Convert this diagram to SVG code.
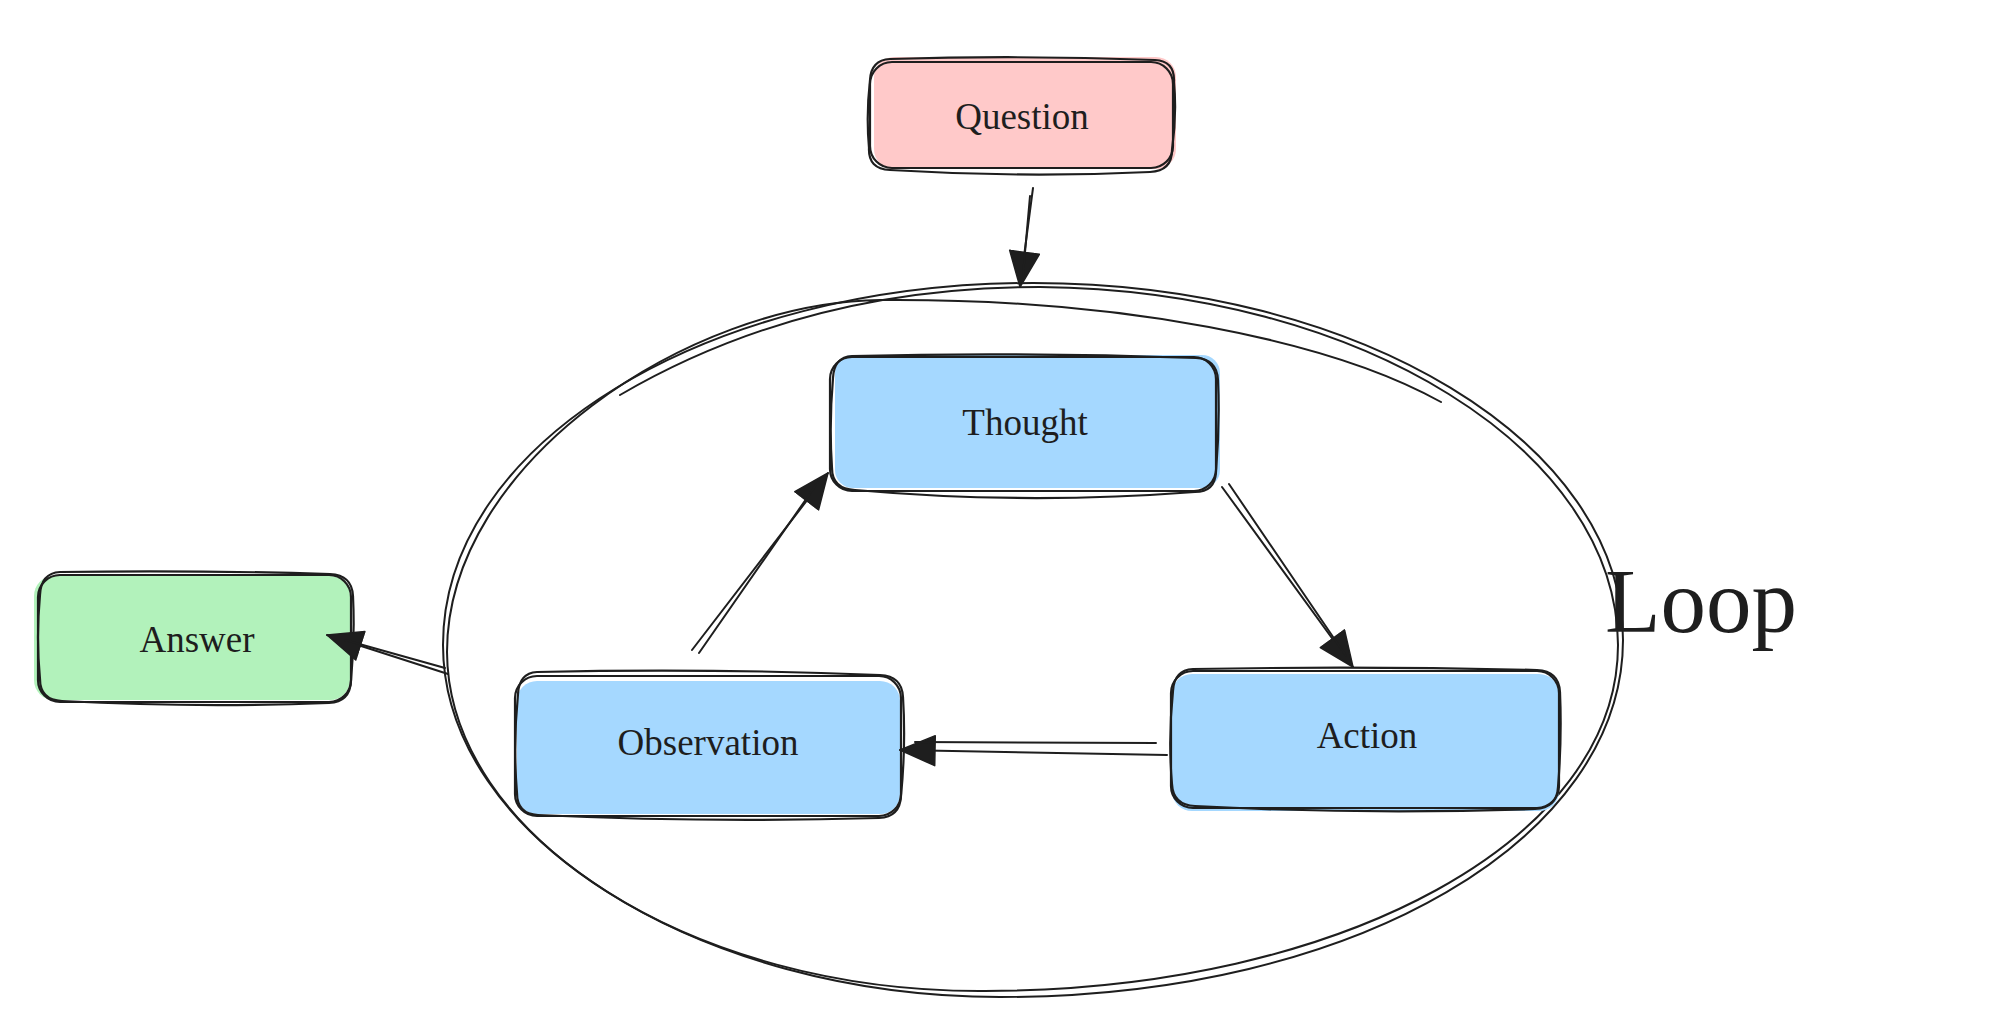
<svg xmlns="http://www.w3.org/2000/svg" width="2000" height="1032" viewBox="0 0 2000 1032">
<defs>
<style>
.ln{fill:none;stroke:#1e1e1e;stroke-width:2.2;stroke-linecap:round;stroke-linejoin:round}
.ln2{fill:none;stroke:#1e1e1e;stroke-width:2;stroke-linecap:round;stroke-linejoin:round}
.lbl{font-family:"Liberation Serif","Times New Roman",serif;font-size:37px;fill:#1e1e1e;text-anchor:middle}
.pink{fill:#ffc9c9}
.blue{fill:#a5d8ff}
.green{fill:#b2f2bb}
</style>
<marker id="ah" markerUnits="userSpaceOnUse" markerWidth="40" markerHeight="36" refX="36" refY="16" orient="auto">
<path d="M1,1 L36,16 L1,31 Z" fill="#1e1e1e" stroke="#1e1e1e" stroke-width="1.5" stroke-linejoin="round"/>
</marker>
</defs>
<rect width="2000" height="1032" fill="#ffffff"/>

<g id="loop">
<path class="ln2" d="M 1033,283 C 1359,283 1623,443 1623,640 C 1623,837 1359,997 1000,997 C 700,997 443,837 443,645 C 443,443 707,283 1033,283"/>
<path class="ln2" d="M 620,395 C 740,325 880,287 1040,287 C 1360,290 1617,450 1618,645 C 1618,838 1345,990 985,991 C 690,993 448,835 447,652 C 447,462 690,302 880,300 C 1120,298 1330,340 1441,402"/>
<text x="1605" y="632" style="font-family:'Liberation Serif','Times New Roman',serif;font-size:91px;fill:#1e1e1e">Loop</text>
</g>

<g id="question">
<rect class="pink" x="874" y="57" width="302" height="112" rx="20"/>
<rect class="ln" x="870" y="62" width="303" height="106" rx="22"/>
<path class="ln" d="M 890,59 Q 1021,55 1155,60 Q 1175,61 1174,82 Q 1177,115 1172,150 Q 1172,171 1150,172 Q 1021,178 890,170 Q 868,169 869,148 Q 866,115 870,80 Q 871,60 890,59 Z"/>
<text class="lbl" x="1022" y="129">Question</text>
</g>

<g id="thought">
<rect class="blue" x="835" y="355" width="385" height="133" rx="18"/>
<rect class="ln" x="830" y="357" width="386" height="134" rx="22"/>
<path class="ln" d="M 852,356 Q 1024,352 1196,358 Q 1217,359 1218,380 Q 1220,424 1216,472 Q 1215,492 1195,492 Q 1024,505 855,490 Q 832,489 832,468 Q 829,424 833,378 Q 834,357 852,356 Z"/>
<text class="lbl" x="1025" y="435">Thought</text>
</g>

<g id="answer">
<rect class="green" x="34" y="576" width="316" height="124" rx="20"/>
<rect class="ln" x="38" y="575" width="313" height="127" rx="22"/>
<path class="ln" d="M 60,572 Q 195,570 330,574 Q 352,575 353,596 Q 355,638 351,681 Q 350,702 329,703 Q 195,708 62,701 Q 40,700 40,679 Q 36,638 40,595 Q 41,573 60,572 Z"/>
<text class="lbl" x="197" y="652">Answer</text>
</g>

<g id="observation">
<rect class="blue" x="517" y="681" width="383" height="133" rx="20"/>
<rect class="ln" x="515" y="676" width="386" height="140" rx="22"/>
<path class="ln" d="M 537,672 Q 709,668 880,675 Q 902,676 903,697 Q 906,745 901,796 Q 900,817 879,818 Q 709,823 538,815 Q 517,814 517,793 Q 513,745 518,694 Q 519,673 537,672 Z"/>
<text class="lbl" x="708" y="755">Observation</text>
</g>

<g id="action">
<rect class="blue" x="1172" y="674" width="387" height="137" rx="20"/>
<rect class="ln" x="1171" y="671" width="388" height="137" rx="22"/>
<path class="ln" d="M 1193,669 Q 1365,666 1537,670 Q 1559,671 1560,692 Q 1562,739 1558,787 Q 1557,808 1535,809 Q 1365,815 1195,806 Q 1173,805 1172,784 Q 1168,739 1173,691 Q 1174,670 1193,669 Z"/>
<text class="lbl" x="1367" y="748">Action</text>
</g>

<g id="connectors">
<path class="ln2" d="M 1033,188 L 1020,287" marker-end="url(#ah)"/>
<path class="ln2" d="M 1030,196 L 1023,275"/>
<path class="ln2" d="M 1222,487 L 1353,667" marker-end="url(#ah)"/>
<path class="ln2" d="M 1229,484 L 1346,656"/>
<path class="ln2" d="M 1167,755 L 900,750" marker-end="url(#ah)"/>
<path class="ln2" d="M 1156,743 L 915,742"/>
<path class="ln2" d="M 692,650 L 828,473" marker-end="url(#ah)"/>
<path class="ln2" d="M 699,653 L 818,482"/>
<path class="ln2" d="M 448,674 L 327,635" marker-end="url(#ah)"/>
<path class="ln2" d="M 445,668 L 345,640"/>
</g>
</svg>
